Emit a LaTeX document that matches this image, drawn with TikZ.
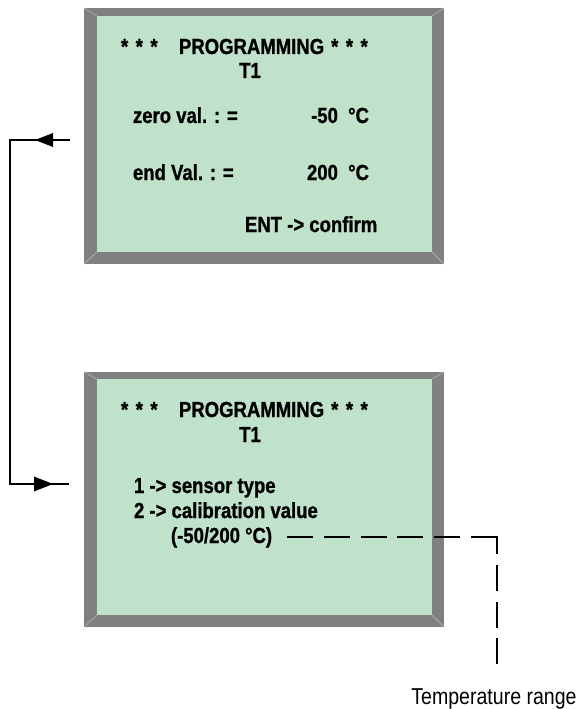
\documentclass[tikz,border=0pt]{standalone}
\usepackage{fontspec}
\newfontfamily\lcdfont[FakeStretch=0.85,FakeBold=1.0]{Liberation Sans}
\newfontfamily\lblfont[FakeStretch=0.85]{Liberation Sans}
\definecolor{lcdgreen}{RGB}{192,225,202}
\definecolor{bezel}{RGB}{128,128,128}
\definecolor{bevelline}{RGB}{172,172,172}
\newcommand\stars{*\hspace{7.5bp}*\hspace{7.5bp}*}
\begin{document}
\begin{tikzpicture}[x=1bp,y=-1bp,
  lcd/.style={font=\lcdfont\bfseries\fontsize{21.8bp}{25bp}\selectfont, inner sep=0pt, outer sep=0pt, anchor=base west},
  lbl/.style={font=\lblfont\fontsize{23bp}{27bp}\selectfont, inner sep=0pt, anchor=base},
  bezelbox/.style={fill=bezel, draw=none, inner sep=0pt, outer sep=0pt, minimum width=360bp, minimum height=256bp, anchor=north west},
  bevel/.style={draw=bevelline, line width=0.8bp},
  conn/.style={line width=2bp, line join=miter},
  dashline/.style={line width=2bp, dash pattern=on 26bp off 10.8bp}
]
\useasboundingbox[fill=white] (0,0) rectangle (580,709);

% ---------- top display ----------
\node[bezelbox] (topbox) at (84,8) {};
\fill[lcdgreen] (97,16) rectangle (432,252);
\draw[bevel] (84,8) -- (97,16) (444,8) -- (432,16) (84,264) -- (97,252) (444,264) -- (432,252);

\node[lcd] (t1a) at (121,54) {\stars};
\node[lcd] (t1b) at (179,54) {PROGRAMMING\hspace{7bp}\stars};
\node[lcd, anchor=base] (t1c) at (250,78) {T1};
\node[lcd] (t1d) at (133,123) {zero val. : =};
\node[lcd, anchor=base east] (t1e) at (369,123) {-50~~°C};
\node[lcd] (t1f) at (133,180) {end Val. : =};
\node[lcd, anchor=base east] (t1g) at (369,180) {200~~°C};
\node[lcd] (t1h) at (245,232) {ENT -> confirm};

% ---------- bottom display ----------
\node[bezelbox, minimum height=255bp] (botbox) at (84,372) {};
\fill[lcdgreen] (97,379) rectangle (432,615);
\draw[bevel] (84,372) -- (97,379) (444,372) -- (432,379) (84,627) -- (97,615) (444,627) -- (432,615);

\node[lcd] (b1a) at (121,417) {\stars};
\node[lcd] (b1b) at (179,417) {PROGRAMMING\hspace{7bp}\stars};
\node[lcd, anchor=base] (b1c) at (250,442) {T1};
\node[lcd] (b1d) at (134,493) {1 -> sensor type};
\node[lcd] (b1e) at (134,518) {2 -> calibration value};
\node[lcd] (cal) at (171,543) {(-50/200 °C)};

% ---------- connector between displays ----------
\coordinate (a1) at (70,140);
\coordinate (k1) at (10,140);
\coordinate (k2) at (10,484);
\coordinate (a2) at (69,484);
\draw[conn] (a1) -- (k1) -- (k2) -- (a2);
\fill (35,140) -- (53,133) -- (53,147) -- cycle;
\fill (53,484) -- (34,476.5) -- (34,491.5) -- cycle;

% ---------- dashed leader to label ----------
\node[lbl] (temp) at (494,704) {Temperature range};
\coordinate (d0) at (287,537);
\coordinate (d1) at (498,537);
\coordinate (d2) at (497,536);
\coordinate (d3) at (497,667);
\draw[dashline] (d0) -- (d1);
\draw[dashline, dash phase=8bp] (d2) -- (d3);
\end{tikzpicture}
\end{document}
